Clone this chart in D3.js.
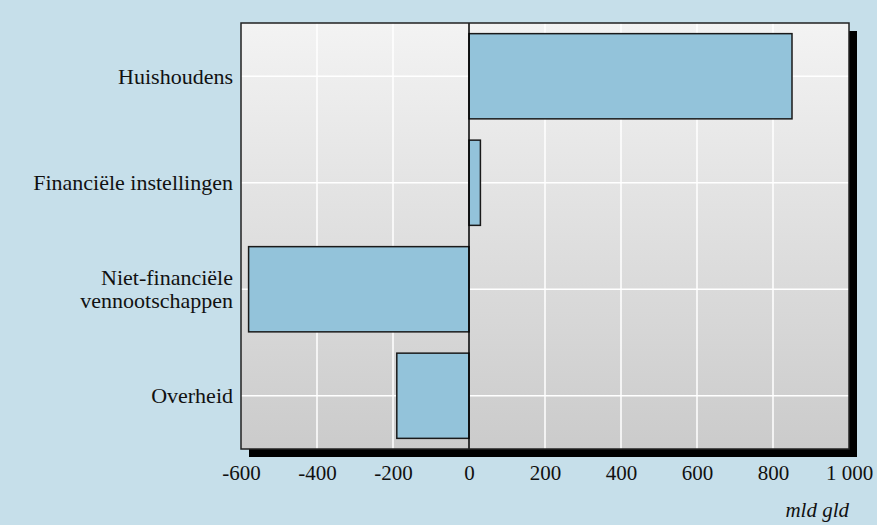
<!DOCTYPE html>
<html><head><meta charset="utf-8">
<script src="https://cdn.jsdelivr.net/npm/d3@7/dist/d3.min.js"></script>
<style>html,body{margin:0;padding:0;background:#c6dfea;}svg{display:block;}</style>
</head><body>
<svg id="chart" width="877" height="525"></svg>
<script>
const categories = ["Huishoudens", "Financiële instellingen", "Niet-financiële\nvennootschappen", "Overheid"];
const values = [850, 30, -580, -190];
const xTicks = [-600, -400, -200, 0, 200, 400, 600, 800, 1000];
const unitLabel = "mld gld";

const W = 877, H = 525;
const m = {left: 241, top: 23, right: 849, bottom: 449};
const svg = d3.select("#chart");
const font = "'Liberation Serif', 'Times New Roman', serif";

svg.append("rect").attr("width", W).attr("height", H).attr("fill", "#c6dfea");

const defs = svg.append("defs");
const g = defs.append("linearGradient").attr("id", "bg").attr("x1", 0).attr("y1", 0).attr("x2", 0).attr("y2", 1);
g.append("stop").attr("offset", "0%").attr("stop-color", "#f3f3f3");
g.append("stop").attr("offset", "100%").attr("stop-color", "#cbcbcb");

const x = d3.scaleLinear().domain([-600, 1000]).range([m.left, m.right]);
const y = d3.scaleBand().domain(categories).range([m.top, m.bottom]).paddingInner(0.2).paddingOuter(0.1);

// shadow
svg.append("rect").attr("x", m.left + 8).attr("y", m.top + 8)
  .attr("width", m.right - m.left).attr("height", m.bottom - m.top).attr("fill", "#000");
// plot bg
svg.append("rect").attr("x", m.left).attr("y", m.top)
  .attr("width", m.right - m.left).attr("height", m.bottom - m.top).attr("fill", "url(#bg)");

// vertical grid
svg.append("g").selectAll("line").data(xTicks.filter(d => d !== 0 && d !== -600 && d !== 1000)).join("line")
  .attr("x1", d => x(d)).attr("x2", d => x(d)).attr("y1", m.top).attr("y2", m.bottom)
  .attr("stroke", "#fff").attr("stroke-width", 1.5);
// horizontal grid at category centers
svg.append("g").selectAll("line").data(categories).join("line")
  .attr("x1", m.left).attr("x2", m.right)
  .attr("y1", d => y(d) + y.bandwidth() / 2).attr("y2", d => y(d) + y.bandwidth() / 2)
  .attr("stroke", "#fff").attr("stroke-width", 1.5);

// bars
svg.append("g").selectAll("rect").data(values).join("rect")
  .attr("x", d => x(Math.min(0, d))).attr("width", d => Math.abs(x(d) - x(0)))
  .attr("y", (d, i) => y(categories[i])).attr("height", y.bandwidth())
  .attr("fill", "#93c3da").attr("stroke", "#1a1a1a").attr("stroke-width", 1.5);

// zero line
svg.append("line").attr("x1", x(0)).attr("x2", x(0)).attr("y1", m.top).attr("y2", m.bottom)
  .attr("stroke", "#000").attr("stroke-width", 1.5);

// frame
svg.append("rect").attr("x", m.left).attr("y", m.top)
  .attr("width", m.right - m.left).attr("height", m.bottom - m.top)
  .attr("fill", "none").attr("stroke", "#222").attr("stroke-width", 1.5);

// x axis
const xAxis = d3.axisBottom(x).tickValues(xTicks).tickSize(0).tickPadding(0)
  .tickFormat(d => (d < 0 ? "-" : "") + d3.format(",")(Math.abs(d)).replace(/,/g, " "));
const ax = svg.append("g").attr("transform", `translate(0,${m.bottom + 16})`).call(xAxis);
ax.select(".domain").remove();
ax.selectAll("text").attr("font-family", font).attr("font-size", 21).attr("fill", "#111").attr("dy", "0.71em");

// y labels
const yl = svg.append("g");
categories.forEach(c => {
  const lines = c.split("\n");
  const cy = y(c) + y.bandwidth() / 2;
  const t = yl.append("text").attr("x", m.left - 8).attr("text-anchor", "end")
    .attr("font-family", font).attr("font-size", 22).attr("fill", "#111");
  lines.forEach((l, i) => {
    t.append("tspan").attr("x", m.left - 8)
      .attr("y", cy + (i - (lines.length - 1) / 2) * 23).attr("dy", "0.35em").text(l);
  });
});

svg.append("text").attr("x", m.right).attr("y", 517).attr("text-anchor", "end")
  .attr("font-family", font).attr("font-style", "italic").attr("font-size", 21).attr("fill", "#111")
  .text(unitLabel);
</script>
</body></html>
